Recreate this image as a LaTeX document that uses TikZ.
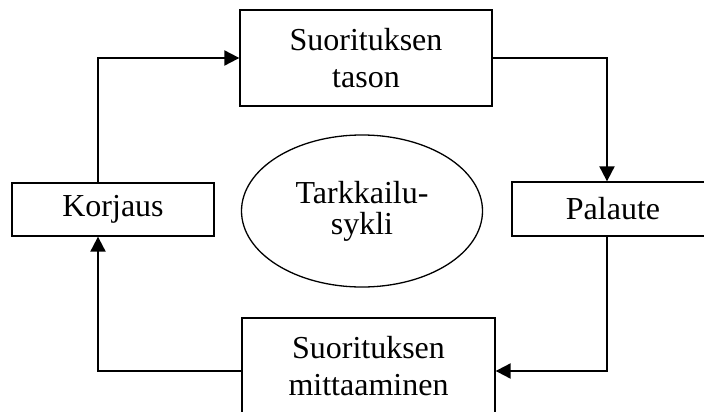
\documentclass[tikz,border=0pt]{standalone}
\usepackage{fontspec}
\setmainfont{Liberation Serif}
\usetikzlibrary{arrows.meta,shapes.geometric}

\begin{document}
\begin{tikzpicture}[x=1pt,y=-1pt,
    every node/.style={draw,line width=1.3pt,inner sep=0pt,align=center,font=\fontsize{32}{37}\selectfont},
    boite/.style={rectangle},
    flux/.style={-{Triangle[length=15pt,width=15pt]},line width=2pt}]
            \useasboundingbox (0,0) rectangle (704,412);
            \node[boite,minimum width=252pt,minimum height=96pt] (taso) at (366,58) {Suorituksen \\ tason};
            \node[boite,minimum width=202pt,minimum height=53pt] (korjaus) at (113,209.5) {Korjaus};
            \node[boite,minimum width=202pt,minimum height=54pt] (palaute) at (613,209) {Palaute};
            \node[boite,minimum width=253pt,minimum height=96pt] (mittaus) at (368.5,366) {Suorituksen \\ mittaaminen};
            \node[ellipse,minimum width=241pt,minimum height=152pt,font=\fontsize{32}{31}\selectfont] (sykli) at (362,211) {Tarkkailu- \\ sykli};
            \draw[flux] ([xshift=-15pt]korjaus.north) |- (taso.west);
            \draw[flux] (taso.east) -| ([xshift=-6pt]palaute.north);
            \draw[flux] ([xshift=-6pt]palaute.south) |- ([yshift=-5pt]mittaus.east);
            \draw[flux] ([yshift=-5pt]mittaus.west) -| ([xshift=-15pt]korjaus.south);
        \end{tikzpicture}
\end{document}
